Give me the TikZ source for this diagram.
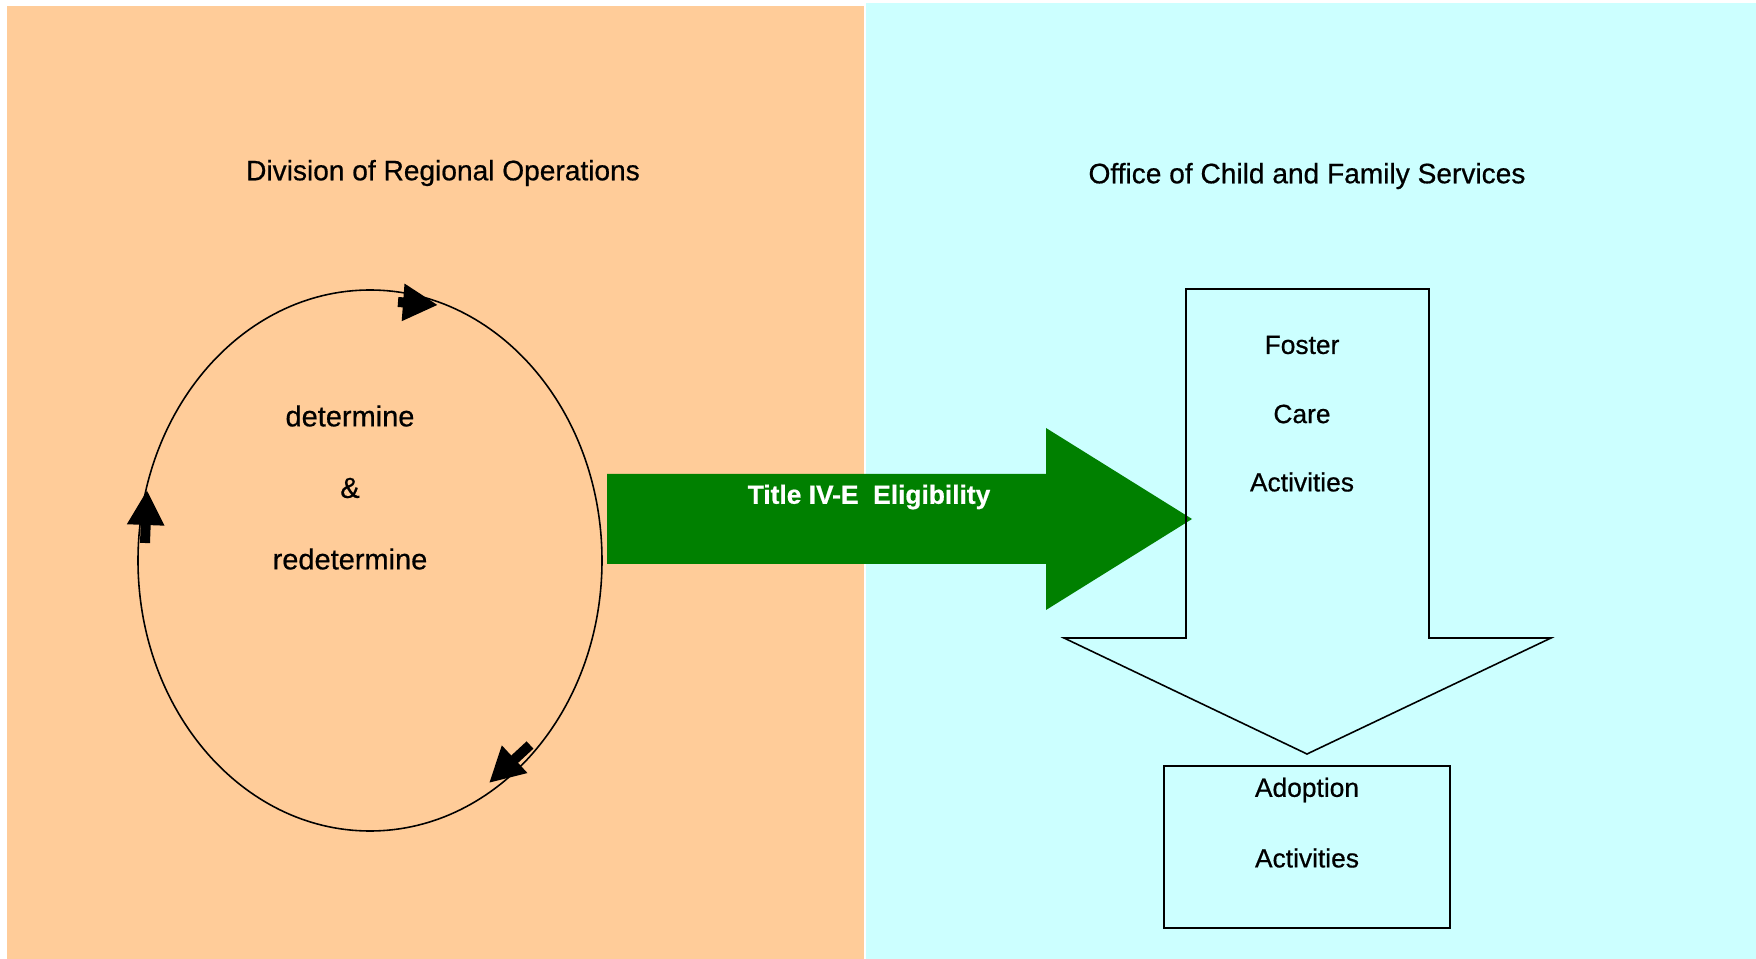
\documentclass[tikz,border=0pt]{standalone}
\usepackage{fontspec}
\setmainfont[FakeBold=0.6]{Liberation Sans}
\usetikzlibrary{arrows.meta,positioning}
\definecolor{drocol}{HTML}{FFCC99}
\definecolor{ocfscol}{HTML}{CCFFFF}
\definecolor{ivegreen}{HTML}{008000}

\begin{document}
\begin{tikzpicture}[x=0.02cm, y=-0.02cm,
    txt/.style={font=\fontsize{15}{18}\selectfont, inner sep=0pt},
    heading/.style={font=\fontsize{16}{19}\selectfont, inner sep=0pt},
    cycarrow/.style={line width=0.2cm, -{Triangle[length=0.7cm, width=0.7cm]}},
    box/.style={draw, line width=0.9pt}]

    \useasboundingbox (0,0) rectangle (1756,959);
    % the two offices
    \fill [drocol] (7,6) rectangle (864,959);
    \fill [ocfscol] (866,3) rectangle (1756,959);
    \node [heading] (dro) at (443,173) {Division of Regional Operations};
    \node [heading] (ocfs) at (1307,176) {Office of Child and Family Services};

    % determine / redetermine cycle
    \draw [line width=0.9pt] (370,560.5) ellipse [x radius=232, y radius=270.5];
    \node [txt, font=\fontsize{16.5}{19}\selectfont] (det) at (350,416) {determine};
    \node [txt, font=\fontsize{16.5}{19}\selectfont] (amp) at (350,488) {\&};
    \node [txt, font=\fontsize{16.5}{19}\selectfont] (redet) at (350,559) {redetermine};
    \coordinate (topA) at (398,302);   \coordinate (topB) at (438,305);
    \coordinate (leftA) at (145,543);  \coordinate (leftB) at (147,490);
    \coordinate (lowA) at (530,745);   \coordinate (lowB) at (489,783);
    \draw [cycarrow] (topA) -- (topB);
    \draw [cycarrow] (leftA) -- (leftB);
    \draw [cycarrow] (lowA) -- (lowB);

    % eligibility arrow
    \fill [ivegreen] (607,474) -- (1046,474) -- (1046,428) -- (1192,519)
        -- (1046,610) -- (1046,564) -- (607,564) -- cycle;
    \node [txt, font=\bfseries\fontsize{15}{18}\selectfont, text=white] (elig) at (869,497) {Title IV-E\ \ Eligibility};

    % foster care
    \draw [box] (1186,289) -- (1429,289) -- (1429,638) -- (1551,638)
        -- (1307,754) -- (1064,638) -- (1186,638) -- cycle;
    \node [txt] (foster) at (1302,345) {Foster};
    \node [txt] (care) at (1302,414) {Care};
    \node [txt] (fact) at (1302,482) {Activities};

    % adoption
    \node [box, minimum width=5.72cm, minimum height=3.24cm] (adopt) at (1307,847) {};
    \node [txt] (adoption) at (1307,790) {Adoption};
    \node [txt] (aact) at (1307,858) {Activities};
\end{tikzpicture}
\end{document}
